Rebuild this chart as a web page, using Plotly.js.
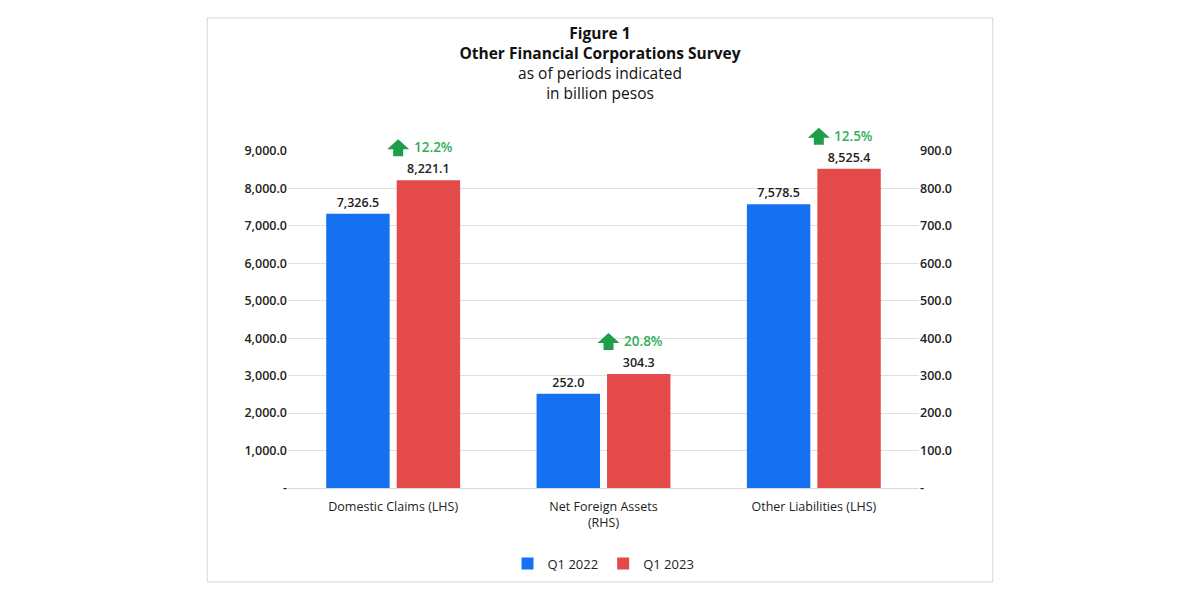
<!DOCTYPE html>
<html>
<head>
<meta charset="utf-8">
<script src="https://cdn.plot.ly/plotly-3.0.1.min.js"></script>
<style>html,body{margin:0;padding:0;background:#fff;}#chart{width:1200px;height:600px;}</style>
</head>
<body>
<div id="chart"></div>
<script>
const categories = ["Domestic Claims (LHS)", "Net Foreign Assets<br>(RHS)", "Other Liabilities (LHS)"];
const seriesNames = ["Q1 2022", "Q1 2023"];
const q1_2022 = [7326.5, 252.0, 7578.5];
const q1_2023 = [8221.1, 304.3, 8525.4];
const axisSide = ["LHS", "RHS", "LHS"];
const growthLabels = ["12.2%", "20.8%", "12.5%"];
const leftTickVals = [0, 1000, 2000, 3000, 4000, 5000, 6000, 7000, 8000, 9000];
const leftTickText = ["-", "1,000.0", "2,000.0", "3,000.0", "4,000.0", "5,000.0", "6,000.0", "7,000.0", "8,000.0", "9,000.0"];
const rightTickVals = [0, 100, 200, 300, 400, 500, 600, 700, 800, 900];
const rightTickText = ["-", "100.0", "200.0", "300.0", "400.0", "500.0", "600.0", "700.0", "800.0", "900.0"];

const LEFT_MAX = 9000, RIGHT_MAX = 900;
const BLUE = "#1670f2", RED = "#e54a4a", GREEN = "#1e9e48", GREEN_TXT = "#2fae5c";
const FONT = "Open Sans, Lato, sans-serif";

function pick(arr, side) { return arr.map((v, i) => axisSide[i] === side ? v : null); }

const valueFont = {family: FONT, size: 12.5, color: "#222", weight: 600};
function barTrace(vals, name, color, side, group, show) {
  return {
    type: "bar", x: categories, y: pick(vals, side), name: name,
    marker: {color: color}, offsetgroup: group, yaxis: side === "LHS" ? "y" : "y2",
    texttemplate: "%{y:,.1f}", textposition: "outside", cliponaxis: false,
    textfont: valueFont, showlegend: show, hoverinfo: "x+y+name"
  };
}
const data = [
  barTrace(q1_2022, seriesNames[0], BLUE, "LHS", "a", true),
  barTrace(q1_2023, seriesNames[1], RED, "LHS", "b", true),
  barTrace(q1_2022, seriesNames[0], BLUE, "RHS", "a", false),
  barTrace(q1_2023, seriesNames[1], RED, "RHS", "b", false)
];

const shapes = [{
  type: "rect", xref: "paper", yref: "paper", x0: -0.128, x1: 1.117, y0: -0.279, y1: 1.395,
  line: {color: "#d6d6d6", width: 1}, layer: "below"
}];
const annotations = [];
categories.forEach((c, i) => {
  const yref = axisSide[i] === "LHS" ? "y" : "y2";
  const top = q1_2023[i];
  const yFrac = top / (axisSide[i] === "LHS" ? LEFT_MAX : RIGHT_MAX);
  const xFrac = (i + 0.5) / categories.length;
  // arrow: pixel-sized path anchored at the top of the Q1 2023 bar
  shapes.push({
    type: "path", xref: "paper", yref: "paper", xsizemode: "pixel", ysizemode: "pixel",
    xanchor: xFrac, yanchor: yFrac,
    path: "M 0,24 L 0,31 L -6,31 L 5,41 L 16,31 L 10,31 L 10,24 Z",
    fillcolor: GREEN, line: {width: 0}
  });
  annotations.push({
    x: c, y: top, xref: "x", yref: yref, text: growthLabels[i], showarrow: false,
    xshift: 40, yshift: 33, font: {family: FONT, size: 13.5, color: GREEN_TXT, weight: 600}
  });
});

const layout = {
  width: 1200, height: 600,
  margin: {l: 288, r: 281, t: 151, b: 112},
  paper_bgcolor: "#fff", plot_bgcolor: "#fff",
  font: {family: FONT, color: "#222"},
  title: {
    text: "<b>Figure 1</b><br><b>Other Financial Corporations Survey</b><br>as of periods indicated<br>in billion pesos",
    x: 0.5, xanchor: "center", y: 0.935, yanchor: "top",
    font: {family: FONT, size: 15.5, color: "#111"}
  },
  barmode: "group", bargap: 0.33, bargroupgap: 0.1,
  xaxis: {
    type: "category", tickfont: {family: FONT, size: 12.5, color: "#222", weight: 500},
    showline: true, linecolor: "#d9d9d9", ticks: "", showgrid: false, ticklabelstandoff: 7
  },
  yaxis: {
    range: [0, LEFT_MAX], tickvals: leftTickVals, ticktext: leftTickText,
    gridcolor: "#e0e0e0", zeroline: false, ticks: "", ticklen: 0,
    tickfont: {family: FONT, size: 12.5, color: "#222", weight: 600}
  },
  yaxis2: {
    range: [0, RIGHT_MAX], tickvals: rightTickVals, ticktext: rightTickText,
    overlaying: "y", side: "right", showgrid: false, zeroline: false,
    tickfont: {family: FONT, size: 12.5, color: "#222", weight: 600}
  },
  legend: {
    orientation: "h", x: 0.5, xanchor: "center", y: -0.18, yanchor: "top",
    font: {family: FONT, size: 13, color: "#222", weight: 500},
    itemwidth: 30, traceorder: "normal"
  },
  shapes: shapes, annotations: annotations
};

Plotly.newPlot("chart", data, layout, {displayModeBar: false, staticPlot: true});
</script>
</body>
</html>
